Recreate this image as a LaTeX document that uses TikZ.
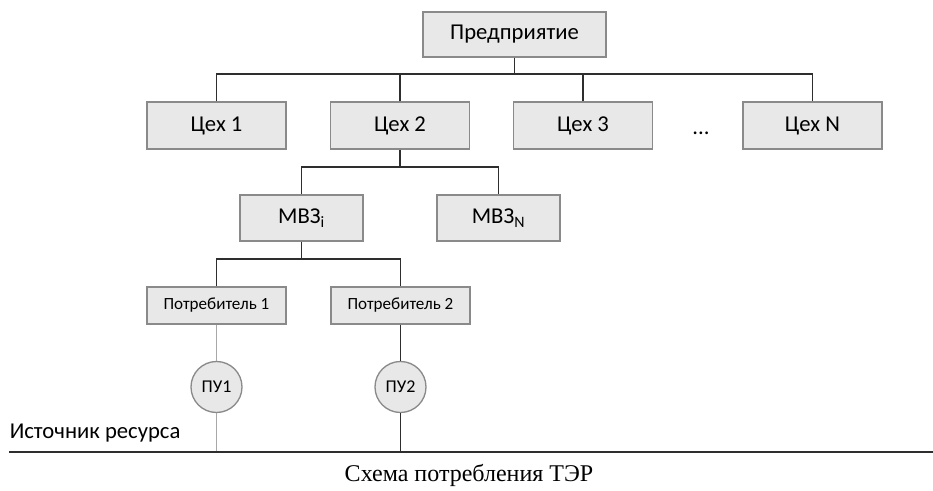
\documentclass[tikz,border=0pt]{standalone}
\usepackage{fontspec}
\setmainfont{Carlito}
\newfontfamily\capfont{Liberation Serif}
\definecolor{boxfill}{HTML}{E8E8E8}
\definecolor{boxdraw}{HTML}{8A8A8A}
\definecolor{linedark}{HTML}{2E2E2E}
\definecolor{linegray}{HTML}{A8A8A8}
\def\u{0.75pt}
\begin{document}
\begin{tikzpicture}[x=0.75pt,y=-0.75pt,
  box/.style={draw=boxdraw,fill=boxfill,line width=1pt,inner sep=0pt,font=\fontsize{17}{20}\selectfont},
  smallbox/.style={box,font=\fontsize{12.8}{15}\selectfont},
  meter/.style={circle,draw=boxdraw,fill=boxfill,line width=1pt,inner sep=0pt,minimum size=51*\u,font=\fontsize{13.5}{16}\selectfont},
  conn/.style={draw=linedark,line width=1.35pt},
  connl/.style={draw=linegray,line width=1pt}]
\useasboundingbox (0,0) rectangle (933,491);
\node[box,minimum width=183*\u,minimum height=45*\u] (ent) at (514.5,34.5) {Предприятие};
\node[box,minimum width=139*\u,minimum height=47*\u] (c1) at (216.5,125.5) {Цех 1};
\node[box,minimum width=139*\u,minimum height=47*\u] (c2) at (400,125.5) {Цех 2};
\node[box,minimum width=139*\u,minimum height=47*\u] (c3) at (583,125.5) {Цех 3};
\node[box,minimum width=139*\u,minimum height=47*\u] (cn) at (812.5,125.5) {Цех N};
\node[anchor=base,inner sep=0pt,font=\fontsize{17}{20}\selectfont] (dots) at (701,135) {...};
\node[box,minimum width=123*\u,minimum height=46*\u] (mi) at (301.5,218) {МВЗ\textsubscript{i}};
\node[box,minimum width=123*\u,minimum height=46*\u] (mn) at (498.5,218) {МВЗ\textsubscript{N}};
\node[smallbox,minimum width=139*\u,minimum height=37*\u] (p1) at (216.5,305.5) {Потребитель 1};
\node[smallbox,minimum width=139*\u,minimum height=37*\u] (p2) at (400.5,305.5) {Потребитель 2};
\node[meter] (u1) at (216.5,387) {ПУ1};
\node[meter] (u2) at (400.5,387) {ПУ2};
\coordinate (busL) at (9,452);
\coordinate (busR) at (933,452);
\coordinate (b1) at (216.5,452);
\coordinate (b2) at (400.5,452);
\node[anchor=base west,inner sep=0pt,font=\fontsize{17}{20}\selectfont] (src) at (9.5,439) {Источник ресурса};
\node[anchor=base,inner sep=0pt,font=\capfont\fontsize{18}{21}\selectfont] (cap) at (469,482) {Схема потребления ТЭР};
% connectors
\draw[conn] (ent.south) -- ++(0,16.5) coordinate (j0);
\draw[conn] (c1.north) |- (cn.north |- j0) -- (cn.north);
\draw[conn] (c2.north) -- (c2.north |- j0);
\draw[conn] (c3.north) -- (c3.north |- j0);
\draw[conn] (c2.south) -- ++(0,17) coordinate (j1);
\draw[conn] (mi.north) |- (mn.north |- j1) -- (mn.north);
\draw[conn] (mi.south) -- ++(0,17) coordinate (j2);
\draw[conn] (p1.north) |- (p2.north |- j2) -- (p2.north);
\draw[connl] (p1.south) -- (u1.north);
\draw[connl] (u1.south) -- (b1);
\draw[conn] (p2.south) -- (u2.north);
\draw[conn] (u2.south) -- (b2);
\draw[draw=linedark,line width=2pt] (busL) -- (busR);
\end{tikzpicture}
\end{document}
